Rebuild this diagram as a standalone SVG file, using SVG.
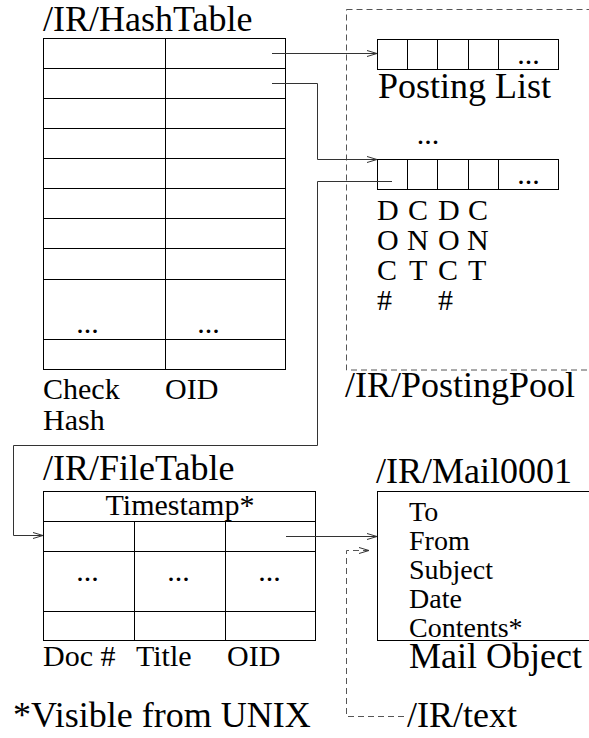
<svg xmlns="http://www.w3.org/2000/svg" width="589" height="738" viewBox="0 0 589 738">
  <style>
    text { font-family: "Liberation Serif", "DejaVu Serif", serif; fill: #000; }
    .t { font-size: 36px; }
    .s { font-size: 30px; }
    .m { font-size: 28px; }
    .c { text-anchor: middle; }
    .box { fill: #fff; stroke: #000; stroke-width: 1; }
    .ln { stroke: #000; stroke-width: 1; fill: none; }
    .conn { stroke: #333; stroke-width: 1; fill: none; }
    .dash { stroke: #555; stroke-width: 1; fill: none; stroke-dasharray: 6 4; }
  </style>
  <defs>
    <marker id="arr" markerUnits="userSpaceOnUse" markerWidth="12" markerHeight="8" refX="11" refY="4" orient="auto">
      <path d="M1,1 L11,4 L1,7" fill="none" stroke="#333" stroke-width="1"/>
    </marker>
  </defs>

  <rect id="pool-box" x="346.5" y="9.5" width="260" height="360.5" class="dash"/>

  <g id="hashtable">
    <text class="t" x="43" y="31" font-family="Liberation Serif, serif">/IR/HashTable</text>
    <rect class="box" x="43.5" y="38.5" width="242" height="331"/>
    <path class="ln" d="M43.5,68.5 H285.5 M43.5,98.5 H285.5 M43.5,128.5 H285.5 M43.5,158.5 H285.5 M43.5,188.5 H285.5 M43.5,218.5 H285.5 M43.5,248.5 H285.5 M43.5,279.5 H285.5 M43.5,339.5 H285.5 M165.5,38.5 V369.5"/>
    <text class="s c" x="87.5" y="333">...</text>
    <text class="s c" x="208.5" y="333">...</text>
    <text class="s" x="43" y="399">Check</text>
    <text class="s" x="43" y="430">Hash</text>
    <text class="s" x="165" y="399">OID</text>
  </g>

  <g id="posting-list-1">
    <rect class="box" x="377.5" y="39.5" width="181" height="30"/>
    <path class="ln" d="M407.5,39.5 V69.5 M437.5,39.5 V69.5 M468.5,39.5 V69.5 M498.5,39.5 V69.5"/>
    <text class="s c" x="528.5" y="64">...</text>
    <text class="t" x="378" y="98">Posting List</text>
  </g>

  <text id="pool-ellipsis" class="s c" x="428" y="144">...</text>

  <g id="posting-list-2">
    <rect class="box" x="377.5" y="159.5" width="181" height="30"/>
    <path class="ln" d="M407.5,159.5 V189.5 M437.5,159.5 V189.5 M468.5,159.5 V189.5 M498.5,159.5 V189.5"/>
    <text class="s c" x="528.5" y="184">...</text>
    <text class="s" x="377" y="220">D</text>
    <text class="s" x="408" y="220">C</text>
    <text class="s" x="438" y="220">D</text>
    <text class="s" x="468" y="220">C</text>
    <text class="s" x="377" y="250">O</text>
    <text class="s" x="407" y="250">N</text>
    <text class="s" x="438" y="250">O</text>
    <text class="s" x="467" y="250">N</text>
    <text class="s" x="377" y="280">C</text>
    <text class="s" x="409" y="280">T</text>
    <text class="s" x="438" y="280">C</text>
    <text class="s" x="468" y="280">T</text>
    <text class="s" x="377" y="310">#</text>
    <text class="s" x="438" y="310">#</text>
  </g>

  <text id="pool-label" class="t" x="345" y="397">/IR/PostingPool</text>

  <g id="filetable">
    <text class="t" x="43" y="480">/IR/FileTable</text>
    <rect class="box" x="43.5" y="491.5" width="272" height="149"/>
    <path class="ln" d="M43.5,521.5 H315.5 M43.5,551.5 H315.5 M43.5,611.5 H315.5 M134.5,521.5 V640.5 M225.5,521.5 V640.5"/>
    <text class="s c" x="180" y="515">Timestamp*</text>
    <text class="s c" x="87.5" y="581">...</text>
    <text class="s c" x="178.5" y="581">...</text>
    <text class="s c" x="269.5" y="581">...</text>
    <text class="s" x="43" y="666">Doc #</text>
    <text class="s" x="136" y="666">Title</text>
    <text class="s" x="227" y="666">OID</text>
  </g>

  <g id="mail">
    <text class="t" x="376" y="483">/IR/Mail0001</text>
    <rect class="box" x="377.5" y="491.5" width="230" height="149"/>
    <text class="m" x="409" y="521">To</text>
    <text class="m" x="409" y="550">From</text>
    <text class="m" x="409" y="579">Subject</text>
    <text class="m" x="409" y="608">Date</text>
    <text class="m" x="409" y="637">Contents*</text>
    <text class="t" x="409" y="668">Mail Object</text>
  </g>

  <text id="footnote" class="t" x="13" y="727">*Visible from UNIX</text>
  <text id="text-label" class="t" x="407" y="727">/IR/text</text>

  <g id="connectors">
    <path class="conn" d="M272,53.5 H377" marker-end="url(#arr)"/>
    <path class="conn" d="M272,83.5 H317.5 V159.5 H377" marker-end="url(#arr)"/>
    <path class="conn" d="M392,181.5 H317.5 V445.5 H13.5 V535.5 H43" marker-end="url(#arr)"/>
    <path class="conn" d="M286,536.5 H377" marker-end="url(#arr)"/>
    <path class="dash" d="M404,716.5 H346.5 V550.5 H369" marker-end="url(#arr)"/>
  </g>
</svg>
